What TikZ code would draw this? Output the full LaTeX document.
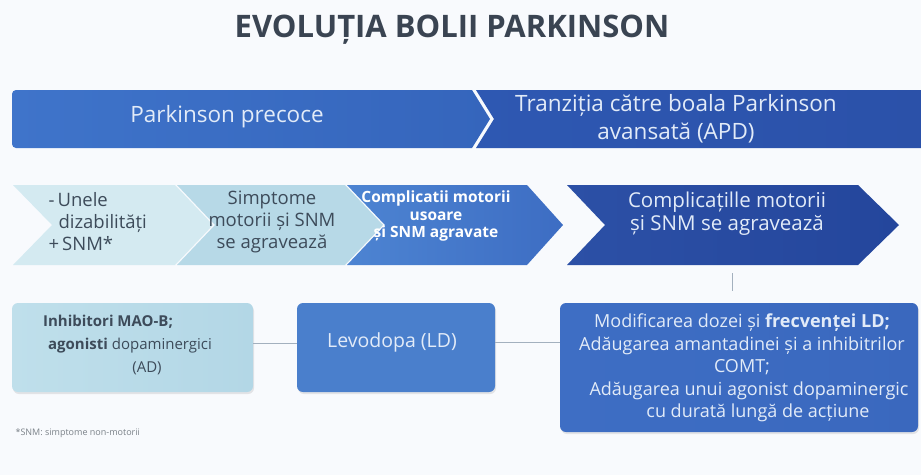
\documentclass[tikz,border=0pt]{standalone}
\usepackage{fontspec}
\setmainfont{Open Sans}
\usetikzlibrary{shadows}
\definecolor{bgc}{HTML}{F8FAFD}
\definecolor{titlec}{HTML}{3A4452}
\definecolor{topAl}{HTML}{3F74CA}
\definecolor{topAr}{HTML}{3565BC}
\definecolor{topBl}{HTML}{2E58B2}
\definecolor{topBr}{HTML}{2B51A9}
\definecolor{toptxt}{HTML}{E2EBF8}
\definecolor{chA}{HTML}{D4EAF1}
\definecolor{chB}{HTML}{B7D9E7}
\definecolor{chCl}{HTML}{4D84D2}
\definecolor{chCr}{HTML}{3D6DC3}
\definecolor{chDl}{HTML}{2C50A6}
\definecolor{chDr}{HTML}{24469C}
\definecolor{darktxt}{HTML}{3D4B5A}
\definecolor{boxA}{HTML}{BFDFEB}
\definecolor{boxAr}{HTML}{B3D7E6}
\definecolor{boxB}{HTML}{4A7FCC}
\definecolor{boxCl}{HTML}{3E6EC4}
\definecolor{boxCm}{HTML}{5D8BD6}
\definecolor{boxCr}{HTML}{3A68BE}
\definecolor{linec}{HTML}{A3B0BE}
\definecolor{notec}{HTML}{7A8188}
\tikzset{
  barone/.style={left color=topAl, right color=topAr},
  bartwo/.style={left color=topBl, right color=topBr},
  bartxt/.style={text=toptxt, align=center, font=\fontsize{22.5}{28}\selectfont},
  rowtxt/.style={text=darktxt, font=\fontsize{18.5}{22}\selectfont},
  boxbase/.style={rounded corners=6pt, inner sep=0pt,
    drop shadow={opacity=0.18, shadow xshift=1pt, shadow yshift=-2pt}},
  conn/.style={draw=linec, line width=0.8pt}
}
\begin{document}
\begin{tikzpicture}[x=1pt,y=-1pt]
\fill[bgc] (0,0) rectangle (921,475);
\useasboundingbox (0,0) rectangle (921,475);

% title
\node[anchor=base, text=titlec, font=\fontsize{31}{34}\selectfont\bfseries] (title) at (452,37) {EVOLUȚIA BOLII PARKINSON};

% top bars
\shade[barone, rounded corners=4pt] (12,90) -- (300,90) [sharp corners] -- (472,90) -- (490,119) -- (472,148) [rounded corners=4pt] -- (12,148) -- cycle;
\shade[bartwo] (476,90) -- (921,90) -- (921,148) -- (476,148) -- (494,119) -- cycle;
\node[bartxt] (phase1) at (227,117) {Parkinson precoce};
\node[bartxt] (phase2) at (676,119) {Tranziția către boala Parkinson\\avansată (APD)};

% chevrons
\fill[chA] (13,185) -- (175,185) -- (213,225) -- (175,265) -- (13,265) -- (52,225) -- cycle;
\fill[chB] (177,185) -- (345,185) -- (383,225) -- (345,265) -- (177,265) -- (215,225) -- cycle;
\shade[left color=chCl, right color=chCr] (347,185) -- (527,185) -- (563,225) -- (527,265) -- (347,265) -- (385,225) -- cycle;
\shade[left color=chDl, right color=chDr] (567,185) -- (858,185) -- (899,225) -- (858,265) -- (567,265) -- (605,225) -- cycle;

\node[rowtxt, anchor=west, align=left] (s1) at (45,222) {-\,Unele\\\hspace*{10pt}dizabilități\\+\,SNM*};
\node[rowtxt, align=center] (s2) at (272,222) {Simptome\\motorii și SNM\\se agravează};
\node[text=white, align=center, font=\fontsize{15.5}{17.5}\selectfont\bfseries] (s3) at (436,216) {Complicatii motorii\\usoare\\și SNM agravate};
\node[text=toptxt, align=center, font=\fontsize{20.5}{23}\selectfont] (s4) at (727,214) {Complicațille motorii\\și SNM se agravează};

% boxes
\node[boxbase, left color=boxA, right color=boxAr, minimum width=241pt, minimum height=89pt] (b1) at (132.5,347.5) {};
\node[text=darktxt, align=center, font=\fontsize{15}{23}\selectfont] (b1t) at (130,345) {\textbf{Inhibitori MAO-B;}\hspace*{44pt}\\\textbf{agonisti} dopaminergici\\\hspace*{34pt}(AD)};
\node[boxbase, fill=boxB, minimum width=198pt, minimum height=89pt] (b2) at (396,347.5) {};
\node[text=toptxt, font=\fontsize{19.5}{22}\selectfont] (b2t) at (392,342) {Levodopa (LD)};
\node[boxbase, left color=boxCl, middle color=boxCm, right color=boxCr, minimum width=358pt, minimum height=129pt] (b3) at (739,367.5) {};
\node[text=toptxt, align=center, font=\fontsize{18}{22.5}\selectfont] (b3t) at (742,368) {Modificarea dozei și \textbf{frecvenței LD;}\\Adăugarea amantadinei și a inhibitrilor\\COMT;\\\hspace*{14pt}Adăugarea unui agonist dopaminergic\\\hspace*{32pt}cu durată lungă de acțiune};

% connectors
\draw[conn] ([yshift=4pt]b1.east) -- ([yshift=4pt]b2.west);
\draw[conn] ([yshift=5pt]b2.east) -- ([yshift=5pt]b2.east -| b3.west);
\coordinate (c4bot) at (732,273);
\coordinate (b3top) at (732,291);
\draw[conn] (c4bot) -- (b3top);

% footnote
\node[anchor=west, text=notec, font=\fontsize{9}{11}\selectfont] (note) at (12,433) {*SNM: simptome non-motorii};
\end{tikzpicture}
\end{document}
